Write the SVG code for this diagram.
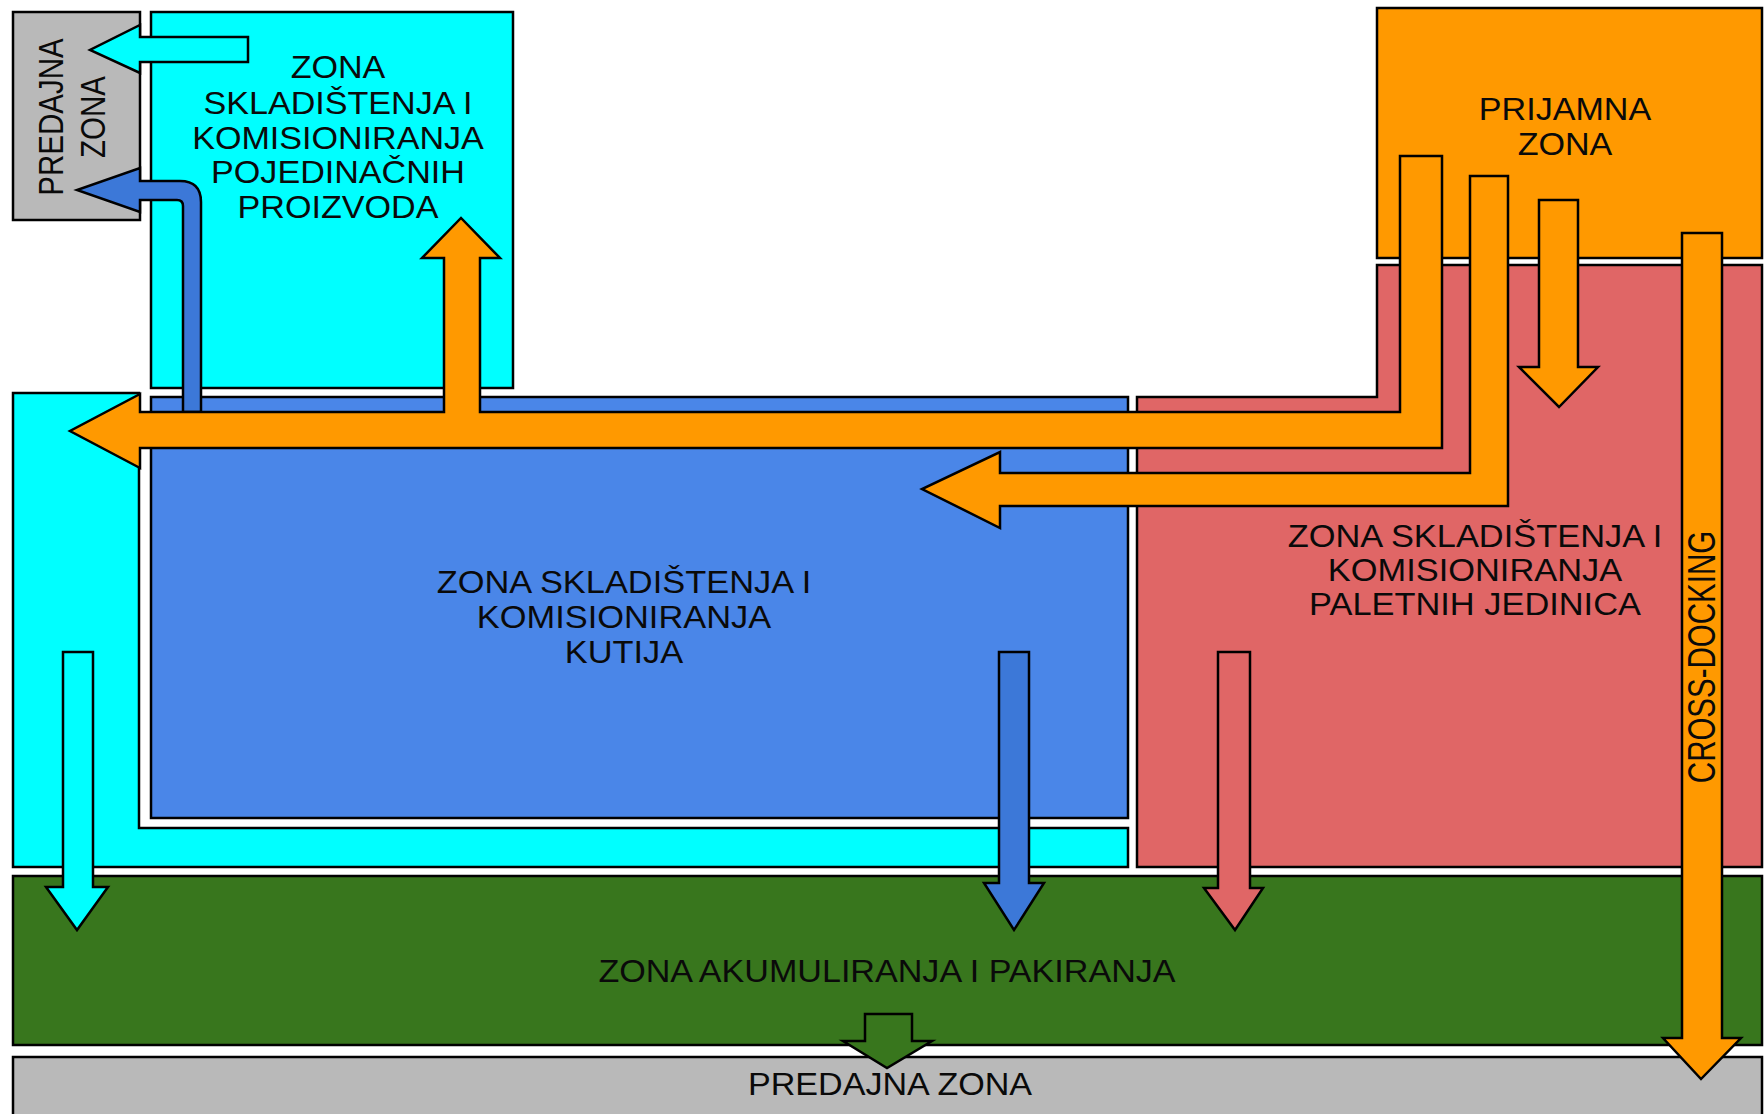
<svg xmlns="http://www.w3.org/2000/svg" width="1764" height="1114" viewBox="0 0 1764 1114">
<style>
.z{stroke:#000;stroke-width:2.5;stroke-linejoin:miter}
.t{font-family:"Liberation Sans",Arial,sans-serif;font-size:31px;fill:#0a0a0a;text-anchor:middle}
.tr{font-family:"Liberation Sans",Arial,sans-serif;font-size:29.5px;fill:#0a0a0a;text-anchor:middle}
.cy{fill:#00FFFF}.bl{fill:#4A86E8}.bd{fill:#3C78D8}.rd{fill:#E06666}.or{fill:#FF9900}.gr{fill:#38761D}.gy{fill:#B9B9B9}
</style>
<rect width="1764" height="1114" fill="#fff"/>
<g id="zona-pojedinacnih">
<rect class="z cy" x="151" y="12" width="362" height="376"/>
<g transform="translate(338 0) scale(1.1 1)">
<text class="t" x="0" y="78">ZONA</text>
<text class="t" x="0" y="114">SKLADIŠTENJA I</text>
<text class="t" x="0" y="149">KOMISIONIRANJA</text>
<text class="t" x="0" y="183">POJEDINAČNIH</text>
<text class="t" x="0" y="218">PROIZVODA</text>
</g>
</g>
<g id="predajna-zona-gornja">
<rect class="z gy" x="13" y="12" width="127" height="208"/>
<text class="tr" transform="translate(63 117) rotate(-90) scale(1 1.2)">PREDAJNA</text>
<text class="tr" transform="translate(105 117) rotate(-90) scale(1 1.2)">ZONA</text>
</g>
<g id="zona-cyan-l">
<path class="z cy" d="M13 393 H139 V828 H1128 V867 H13 Z"/>
</g>
<g id="zona-kutija">
<rect class="z bl" x="151" y="397" width="977" height="421"/>
<g transform="translate(624 0) scale(1.11 1)">
<text class="t" x="0" y="593">ZONA SKLADIŠTENJA I</text>
<text class="t" x="0" y="628">KOMISIONIRANJA</text>
<text class="t" x="0" y="663">KUTIJA</text>
</g>
</g>
<g id="zona-paletnih">
<path class="z rd" d="M1137 397 H1377 V265 H1762 V867 H1137 Z"/>
<g transform="translate(1475 0) scale(1.11 1)">
<text class="t" x="0" y="547">ZONA SKLADIŠTENJA I</text>
<text class="t" x="0" y="581">KOMISIONIRANJA</text>
<text class="t" x="0" y="615">PALETNIH JEDINICA</text>
</g>
</g>
<g id="prijamna-zona">
<rect class="z or" x="1377" y="8" width="385" height="250"/>
<g transform="translate(1565 0) scale(1.1 1)">
<text class="t" x="0" y="120">PRIJAMNA</text>
<text class="t" x="0" y="155">ZONA</text>
</g>
</g>
<g id="zona-akumuliranja">
<rect class="z gr" x="13" y="876" width="1749" height="169"/>
<g transform="translate(887 0) scale(1.1 1)">
<text class="t" x="0" y="982">ZONA AKUMULIRANJA I PAKIRANJA</text>
</g>
</g>
<g id="predajna-zona-donja">
<rect class="z gy" x="13" y="1057" width="1749" height="60"/>
<g transform="translate(890 0) scale(1.1 1)">
<text class="t" x="0" y="1095">PREDAJNA ZONA</text>
</g>
</g>
<g id="connectors">
<path class="z cy" d="M248 37 V62 H140 V73 L90 50 L140 25 V37 Z"/>
<path class="z bd" d="M140 181 H180 Q201 181 201 202 V412 H183 V206 Q183 200 177 200 H140 V212 L77 190 L140 168 Z"/>
<path class="z or" d="M1442 156 V448 H140 V468 L70 431 L140 394 V412 H444 V258 H422 L461 218 L500 258 H480 V412 H1400 V156 Z"/>
<path class="z or" d="M1508 176 V506 H1000 V528 L922 489 L1000 452 V473 H1470 V176 Z"/>
<path class="z or" d="M1539 200 H1578 V367 H1598 L1559 407 L1519 367 H1539 Z"/>
<path class="z or" d="M1682 233 H1722 V1038 H1741 L1701 1079 L1663 1038 H1682 Z"/>
<path class="z cy" d="M63 652 H93 V887 H108 L77 930 L46 887 H63 Z"/>
<path class="z bd" d="M999 652 H1029 V883 H1044 L1014 930 L984 883 H999 Z"/>
<path class="z rd" d="M1218 652 H1250 V888 H1263 L1235 930 L1204 888 H1218 Z"/>
<path class="z gr" d="M865 1014 H912 V1041 H932 L887 1068 L843 1041 H865 Z"/>
<text class="tr" transform="translate(1715 657) rotate(-90) scale(1 1.3)">CROSS-DOCKING</text>
</g>
</svg>
